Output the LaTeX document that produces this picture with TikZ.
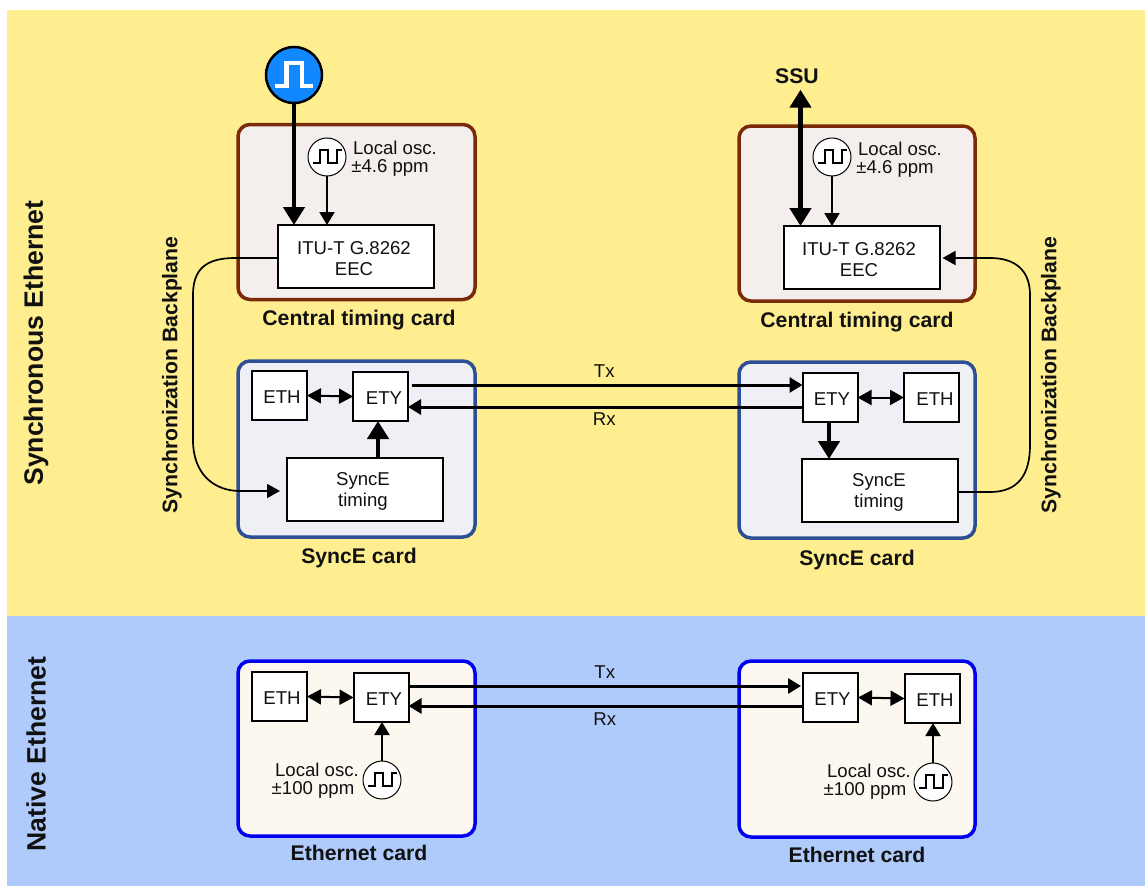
\documentclass[tikz,border=0pt]{standalone}
\usepackage{fontspec}
\setmainfont{Liberation Sans}
\usetikzlibrary{arrows.meta}
\definecolor{bgyellow}{HTML}{FFEE90}
\definecolor{bgblue}{HTML}{AFCBFC}
\definecolor{brownline}{HTML}{7A2A08}
\definecolor{brownfill}{HTML}{F4EFEC}
\definecolor{syncline}{HTML}{2F4F94}
\definecolor{syncfill}{HTML}{EFF0F6}
\definecolor{ethline}{HTML}{0000EE}
\definecolor{ethfill}{HTML}{FCF8F0}
\definecolor{pulseblue}{HTML}{1188FF}
\definecolor{ink}{HTML}{111111}
\tikzset{
  cardbox/.style={draw,line width=3.5pt,rounded corners=12pt,inner sep=0pt,outer sep=0pt},
  timingcard/.style={cardbox,draw=brownline,fill=brownfill},
  syncecard/.style={cardbox,draw=syncline,fill=syncfill},
  ethcard/.style={cardbox,draw=ethline,fill=ethfill},
  block/.style={draw=black,fill=white,line width=2pt,inner sep=0pt,outer sep=0pt,align=center,text=ink,font=\fontsize{18.6}{21}\selectfont},
  smallblock/.style={block,minimum width=55pt,minimum height=49pt},
  bigblock/.style={block,minimum width=156pt,minimum height=63pt},
  osc/.style={circle,draw=black,fill=white,line width=1pt,minimum size=38pt,inner sep=0pt,outer sep=0pt},
  pulse/.style={circle,draw=black,fill=pulseblue,line width=2.5pt,minimum size=56pt,inner sep=0pt,outer sep=0pt},
  wave/.style={draw=black,line width=2pt},
  pulsewave/.style={draw=white,line width=4.5pt},
  txt/.style={text=ink,inner sep=0pt,align=center,font=\fontsize{18.6}{19}\selectfont},
  bold/.style={text=ink,inner sep=0pt,font=\fontsize{21.2}{24}\selectfont\bfseries},
  side/.style={text=ink,inner sep=0pt,font=\fontsize{26.6}{30}\selectfont\bfseries,rotate=90},
  heavy/.style={line width=4.5pt,-{Triangle[width=21pt,length=18pt]}},
  heavyboth/.style={line width=4.5pt,{Triangle[width=21pt,length=18pt]}-{Triangle[width=21pt,length=18pt]}},
  thin/.style={line width=2pt,-{Triangle[width=15pt,length=13pt]}},
  thinboth/.style={line width=2pt,{Triangle[width=15pt,length=14pt]}-{Triangle[width=15pt,length=14pt]}},
  link/.style={line width=3pt,-{Triangle[width=15pt,length=13pt]}},
  backplane/.style={line width=1.7pt,-{Triangle[width=14pt,length=13pt]}},
}
\newcommand{\oscwave}[1]{\draw[wave,shift={(#1)}] (-14,6) -- (-7.5,6) -- (-7.5,-7) -- (0.7,-7) -- (0.7,6) -- (10,6) -- (10,-7) -- (15,-7);}
\newcommand{\nudge}[2]{\hspace*{#1}\raisebox{-2pt}[\height][\depth]{#2}}
\begin{document}
\begin{tikzpicture}[x=1pt,y=-1pt]
\useasboundingbox (0,0) rectangle (1145,886);
\fill[white] (0,0) rectangle (1145,886);
\fill[bgyellow] (7,10) rectangle (1145,616);
\fill[bgblue] (7,616) rectangle (1145,886);

% cards
\node[timingcard,minimum width=237pt,minimum height=175pt] (ctcL) at (356.5,212) {};
\node[timingcard,minimum width=236pt,minimum height=175pt] (ctcR) at (857,213.5) {};
\node[syncecard,minimum width=237pt,minimum height=176pt] (secL) at (356.5,449) {};
\node[syncecard,minimum width=236pt,minimum height=176pt] (secR) at (857,450) {};
\node[ethcard,minimum width=237pt,minimum height=175pt] (ecL) at (356.5,748.5) {};
\node[ethcard,minimum width=236pt,minimum height=176pt] (ecR) at (857,749) {};

% backplane curves
\coordinate (blA) at (193,295);
\coordinate (blB) at (193,440);
\coordinate (brA) at (1030,295);
\coordinate (brB) at (1030,445);

% blocks
\node[bigblock] (eecL) at (356,256.5) {\nudge{-4pt}{ITU-T G.8262}\\\nudge{-4pt}{EEC}};
\node[bigblock] (eecR) at (861.5,257.5) {\nudge{-5pt}{ITU-T G.8262}\\\nudge{-5pt}{EEC}};
\node[bigblock] (stL) at (365,489.5) {\nudge{-4pt}{SyncE}\\\nudge{-4pt}{timing}};
\node[bigblock] (stR) at (880,490.5) {\nudge{-2pt}{SyncE}\\\nudge{-2pt}{timing}};
\node[smallblock] (ethSL) at (279.5,395.5) {\nudge{5pt}{ETH}};
\node[smallblock] (etySL) at (380.5,396.5) {\nudge{7pt}{ETY}};
\node[smallblock] (etySR) at (830,397.5) {\nudge{4pt}{ETY}};
\node[smallblock] (ethSR) at (931.5,397.5) {\nudge{7pt}{ETH}};
\node[smallblock] (ethNL) at (279.5,696.5) {\nudge{5pt}{ETH}};
\node[smallblock] (etyNL) at (381,697.5) {\nudge{6pt}{ETY}};
\node[smallblock] (etyNR) at (830.5,697.5) {\nudge{4pt}{ETY}};
\node[smallblock] (ethNR) at (932,698.5) {\nudge{6pt}{ETH}};

% sources
\node[pulse] (src) at (294,75) {};
\draw[pulsewave,shift={(src)}] (-19,11) -- (-7.5,11) -- (-7.5,-12) -- (8,-12) -- (8,11) -- (19,11);
\node[osc] (oscCL) at (327,157) {};
\node[osc] (oscCR) at (832,157) {};
\node[osc] (oscNL) at (382,780) {};
\node[osc] (oscNR) at (933,782) {};
\oscwave{oscCL}
\oscwave{oscCR}
\oscwave{oscNL}
\oscwave{oscNR}

% connectors
\draw[heavy] (src.south) -- (src.south |- eecL.north);
\draw[thin] (oscCL.south) -- (oscCL.south |- eecL.north);
\draw[thin] (oscCR.south) -- (oscCR.south |- eecR.north);
\node[bold] (ssu) at (797,76) {SSU};
\draw[heavyboth] (ssu.south -| eecR.north west) ++(17,6) coordinate (ssuEnd) -- (ssuEnd |- eecR.north);

\draw[backplane,shorten >=7pt] ([yshift=-1.5pt]eecL.west) -- (235,258) .. controls (205,258) and (193,270) .. (blA) -- (blB) .. controls (193,475) and (215,491) .. (240,491) -- (stL.west |- 0,491);
\draw[backplane,shorten >=3pt] ([yshift=-1.5pt]stR.east) -- (990,492) .. controls (1018,492) and (1030,475) .. (brB) -- (brA) .. controls (1030,270) and (1015,258) .. (990,258) -- (eecR.east |- 0,258);

\draw[heavy] ([xshift=13pt]stL.north) -- ([xshift=-2.5pt]etySL.south);
\draw[heavy] ([xshift=-1pt]etySR.south) -- ([xshift=-51pt]stR.north);
\draw[thinboth] (ethSL.east) -- (etySL.west);
\draw[thinboth] (etySR.east) -- (ethSR.west);
\draw[thinboth] (ethNL.east) -- (etyNL.west);
\draw[thinboth] (etyNR.east) -- (ethNR.west);
\draw[link] ([yshift=11.5pt,xshift=4pt]etySL.east) -- ([yshift=12.5pt]etySR.west) node[midway,above=6pt,xshift=-3pt,txt] (txS) {Tx};
\draw[link] ([yshift=-9.5pt]etySR.west) -- ([yshift=-10.5pt]etySL.east) node[midway,below=4pt,xshift=-1pt,txt] (rxS) {Rx};
\draw[link] ([yshift=11.5pt]etyNL.east) -- ([yshift=11.5pt,xshift=-2pt]etyNR.west) node[midway,above=6pt,txt] (txN) {Tx};
\draw[link] ([yshift=-8.5pt]etyNR.west) -- ([yshift=-8.5pt]etyNL.east) node[midway,below=5pt,xshift=-1pt,txt] (rxN) {Rx};
\draw[thin] (oscNL.north) -- (oscNL.north |- etyNL.south);
\draw[thin] (oscNR.north) -- (oscNR.north |- ethNR.south);

% labels
\node[txt] (lCL1) at (395,148) {Local osc.};
\node[txt] (lCL2) at (390,168) {±4.6 ppm};
\node[txt] (lCR1) at (900,149) {Local osc.};
\node[txt] (lCR2) at (895,169) {±4.6 ppm};
\node[txt] (lNL1) at (317,770) {Local osc.};
\node[txt] (lNL2) at (313,790) {±100 ppm};
\node[txt] (lNR1) at (869,771) {Local osc.};
\node[txt] (lNR2) at (865,791) {±100 ppm};
\node[bold] (tCL) at (359,320) {Central timing card};
\node[bold] (tCR) at (857,322) {Central timing card};
\node[bold] (tSL) at (359,558) {SyncE card};
\node[bold] (tSR) at (857,560) {SyncE card};
\node[bold] (tNL) at (359,853) {Ethernet card};
\node[bold] (tNR) at (857,855) {Ethernet card};
\node[bold,rotate=90] (bpL) at (172,375) {Synchronization Backplane};
\node[bold,rotate=90] (bpR) at (1051,375) {Synchronization Backplane};
\node[side] (sec1) at (36,343) {Synchronous Ethernet};
\node[side] (sec2) at (36,754) {Native Ethernet};
\end{tikzpicture}
\end{document}
